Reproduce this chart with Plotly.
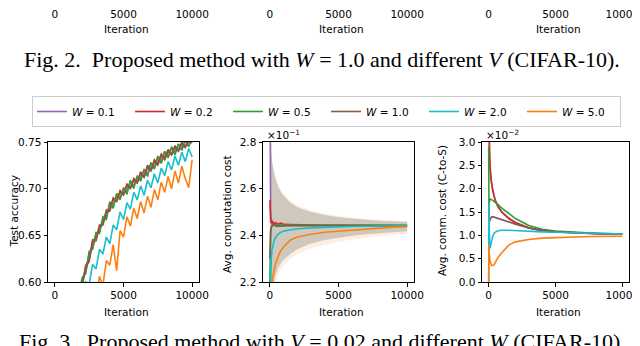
import plotly.graph_objects as go

# ---- legend / colours -------------------------------------------------------
w_labels = ["0.1", "0.2", "0.5", "1.0", "2.0", "5.0"]
colors = ["#9467bd", "#d62728", "#2ca02c", "#8c564b", "#17becf", "#ff7f0e"]

# ---- panel 1: test accuracy -------------------------------------------------
acc_iter = [1500, 1750, 2000, 2250, 2500, 2750, 3000, 3250, 3500, 3750, 4000, 4250,
            4500, 4750, 5000, 5250, 5500, 5750, 6000, 6250, 6500, 6750, 7000, 7250,
            7500, 7750, 8000, 8250, 8500, 8750, 9000, 9250, 9500, 9750, 10000]
acc_w01 = [0.568, 0.587, 0.603, 0.611, 0.631, 0.636, 0.652, 0.654, 0.668, 0.669, 0.684, 0.681,
           0.693, 0.690, 0.700, 0.697, 0.707, 0.703, 0.712, 0.711, 0.719, 0.716, 0.727, 0.723,
           0.733, 0.729, 0.739, 0.735, 0.743, 0.739, 0.747, 0.743, 0.751, 0.747, 0.754]
acc_w02 = [0.573, 0.582, 0.598, 0.618, 0.624, 0.645, 0.646, 0.661, 0.662, 0.677, 0.677, 0.690,
           0.687, 0.698, 0.694, 0.705, 0.701, 0.711, 0.707, 0.718, 0.713, 0.725, 0.720, 0.731,
           0.727, 0.737, 0.733, 0.742, 0.737, 0.746, 0.741, 0.750, 0.745, 0.753, 0.750]
acc_w05 = [0.566, 0.589, 0.605, 0.609, 0.633, 0.635, 0.653, 0.652, 0.670, 0.667, 0.686, 0.679,
           0.695, 0.688, 0.701, 0.694, 0.709, 0.700, 0.714, 0.708, 0.721, 0.713, 0.728, 0.721,
           0.735, 0.727, 0.740, 0.733, 0.745, 0.736, 0.748, 0.741, 0.752, 0.745, 0.755]
acc_w10 = [0.571, 0.584, 0.596, 0.616, 0.622, 0.643, 0.644, 0.659, 0.661, 0.675, 0.676, 0.688,
           0.686, 0.696, 0.693, 0.703, 0.700, 0.709, 0.706, 0.716, 0.712, 0.723, 0.719, 0.729,
           0.725, 0.735, 0.731, 0.740, 0.736, 0.744, 0.740, 0.748, 0.744, 0.751, 0.749]
acc_w20 = [0.556, 0.577, 0.581, 0.600, 0.598, 0.619, 0.614, 0.635, 0.630, 0.648, 0.641, 0.661,
           0.656, 0.675, 0.667, 0.685, 0.678, 0.696, 0.688, 0.703, 0.693, 0.709, 0.701, 0.716,
           0.706, 0.722, 0.714, 0.729, 0.720, 0.735, 0.725, 0.739, 0.729, 0.743, 0.734]
acc_w50 = [0.527, 0.549, 0.551, 0.571, 0.569, 0.590, 0.583, 0.606, 0.596, 0.623, 0.618, 0.640,
           0.612, 0.655, 0.648, 0.670, 0.660, 0.679, 0.668, 0.686, 0.674, 0.692, 0.680, 0.699,
           0.688, 0.707, 0.696, 0.713, 0.700, 0.719, 0.706, 0.724, 0.711, 0.701, 0.731]

# ---- panel 2: avg. computation cost (x1e-1) ---------------------------------
cost_iter = [0, 30, 60, 100, 150, 200, 300, 400, 600, 800, 1000, 1500, 2000, 3000,
             4000, 5000, 6000, 7000, 8000, 9000, 10000]
cost_w01 = [3.20, 2.62, 2.50, 2.47, 2.455, 2.45, 2.447, 2.445, 2.444, 2.443, 2.443, 2.442,
            2.442, 2.442, 2.441, 2.441, 2.441, 2.441, 2.441, 2.441, 2.441]
cost_w02 = [2.55, 2.47, 2.46, 2.455, 2.452, 2.458, 2.45, 2.455, 2.448, 2.452, 2.447, 2.446,
            2.445, 2.444, 2.443, 2.443, 2.442, 2.442, 2.442, 2.442, 2.442]
cost_w05 = [2.20, 2.38, 2.42, 2.435, 2.44, 2.442, 2.443, 2.444, 2.444, 2.444, 2.444, 2.444,
            2.444, 2.443, 2.443, 2.443, 2.443, 2.443, 2.443, 2.443, 2.443]
cost_w10 = [2.30, 2.40, 2.42, 2.43, 2.448, 2.45, 2.446, 2.44, 2.439, 2.44, 2.44, 2.441,
            2.441, 2.441, 2.441, 2.441, 2.441, 2.441, 2.441, 2.441, 2.441]
cost_w20 = [2.00, 2.15, 2.25, 2.30, 2.335, 2.355, 2.375, 2.39, 2.405, 2.413, 2.418, 2.424,
            2.428, 2.432, 2.435, 2.437, 2.438, 2.439, 2.44, 2.44, 2.441]
cost_w50 = [1.90, 2.00, 2.07, 2.13, 2.19, 2.22, 2.25, 2.275, 2.31, 2.335, 2.35, 2.38,
            2.393, 2.405, 2.413, 2.418, 2.423, 2.428, 2.432, 2.435, 2.437]
# shaded spread (all runs) and the wider one of W = 5.0
band_hi = [3.00, 2.90, 2.82, 2.76, 2.72, 2.70, 2.67, 2.645, 2.61, 2.587, 2.57, 2.54,
           2.52, 2.50, 2.487, 2.478, 2.472, 2.467, 2.463, 2.46, 2.457]
band_lo = [1.80, 1.90, 2.00, 2.06, 2.11, 2.15, 2.20, 2.225, 2.26, 2.28, 2.295, 2.32,
           2.34, 2.365, 2.38, 2.39, 2.398, 2.405, 2.41, 2.414, 2.418]
band5_hi = [3.00, 2.92, 2.84, 2.78, 2.74, 2.71, 2.68, 2.655, 2.62, 2.595, 2.578, 2.548,
            2.528, 2.506, 2.492, 2.482, 2.475, 2.47, 2.466, 2.463, 2.46]
band5_lo = [1.70, 1.80, 1.90, 1.98, 2.05, 2.10, 2.16, 2.19, 2.23, 2.255, 2.272, 2.30,
            2.32, 2.345, 2.36, 2.372, 2.382, 2.39, 2.397, 2.402, 2.406]

# ---- panel 3: avg. comm. cost C-to-S (x1e-2) --------------------------------
comm_iter = [0, 20, 50, 100, 150, 200, 300, 400, 500, 700, 1000, 1500, 2000, 3000,
             4000, 5000, 6000, 7000, 8000, 9000, 10000]
comm_w01 = [4.5, 3.3, 2.85, 2.5, 2.3, 2.15, 1.98, 1.85, 1.75, 1.62, 1.5, 1.37,
            1.28, 1.16, 1.10, 1.07, 1.055, 1.045, 1.037, 1.03, 1.025]
comm_w02 = [3.6, 3.1, 2.75, 2.45, 2.27, 2.13, 1.96, 1.84, 1.74, 1.61, 1.49, 1.36,
            1.27, 1.16, 1.10, 1.07, 1.055, 1.045, 1.037, 1.03, 1.025]
comm_w05 = [2.9, 1.65, 1.72, 1.78, 1.78, 1.77, 1.75, 1.73, 1.71, 1.66, 1.58, 1.46,
            1.36, 1.21, 1.13, 1.09, 1.07, 1.055, 1.045, 1.037, 1.03]
comm_w10 = [1.7, 1.35, 1.30, 1.33, 1.37, 1.39, 1.40, 1.39, 1.38, 1.36, 1.33, 1.28,
            1.24, 1.16, 1.11, 1.08, 1.06, 1.05, 1.04, 1.035, 1.03]
comm_w20 = [0.0, 1.7, 1.05, 0.72, 0.78, 0.88, 0.98, 1.04, 1.07, 1.10, 1.11, 1.11,
            1.10, 1.09, 1.075, 1.065, 1.055, 1.045, 1.04, 1.035, 1.03]
comm_w50 = [0.0, 0.8, 0.6, 0.45, 0.39, 0.36, 0.35, 0.37, 0.42, 0.53, 0.63, 0.79,
            0.86, 0.91, 0.94, 0.955, 0.965, 0.97, 0.975, 0.978, 0.98]

acc_series = [acc_w01, acc_w02, acc_w05, acc_w10, acc_w20, acc_w50]
cost_series = [cost_w01, cost_w02, cost_w05, cost_w10, cost_w20, cost_w50]
comm_series = [comm_w01, comm_w02, comm_w05, comm_w10, comm_w20, comm_w50]

W, H = 640, 346
OFF = 8  # the page body puts the figure 8px down and right

def px(v):
    return (v - OFF) / W
def py(v):
    return 1 - (v - OFF) / H

FONT = "DejaVu Sans"
SERIF = "Liberation Serif"
TICK = dict(family=FONT, size=10.5, color="black")

fig = go.Figure()

# shaded spread in panel 2
fig.add_trace(go.Scatter(x=cost_iter + cost_iter[::-1], y=band5_hi + band5_lo[::-1],
                         fill="toself", fillcolor="rgba(255,127,14,0.13)", line=dict(width=0),
                         hoverinfo="skip", showlegend=False, xaxis="x2", yaxis="y2"))
fig.add_trace(go.Scatter(x=cost_iter + cost_iter[::-1], y=band_hi + band_lo[::-1],
                         fill="toself", fillcolor="rgba(140,150,140,0.42)", line=dict(width=0),
                         hoverinfo="skip", showlegend=False, xaxis="x2", yaxis="y2"))

for i, lab in enumerate(w_labels):
    name = "<i>W</i> = " + lab
    fig.add_trace(go.Scatter(x=acc_iter, y=acc_series[i], mode="lines", name=name,
                             line=dict(color=colors[i], width=1.6), legendgroup=lab,
                             xaxis="x", yaxis="y"))
for i, lab in enumerate(w_labels):
    fig.add_trace(go.Scatter(x=cost_iter, y=cost_series[i], mode="lines", name=lab,
                             line=dict(color=colors[i], width=1.6), legendgroup=lab,
                             showlegend=False, xaxis="x2", yaxis="y2"))
for i, lab in enumerate(w_labels):
    fig.add_trace(go.Scatter(x=comm_iter, y=comm_series[i], mode="lines", name=lab,
                             line=dict(color=colors[i], width=1.6), legendgroup=lab,
                             showlegend=False, xaxis="x3", yaxis="y3"))

# only the tick labels of the Fig. 2 panels above are left in the crop
for k in ["4", "5", "6"]:
    fig.add_trace(go.Scatter(x=[None], y=[None], mode="lines", showlegend=False,
                             hoverinfo="skip", xaxis="x" + k, yaxis="y" + k))

panels = [(48, 199), (263, 414), (482, 629)]
ybox = [py(282), py(142)]

def xax(i, anchor):
    return dict(domain=[px(panels[i][0]), px(panels[i][1])], anchor=anchor,
                range=[-500, 10500], tickvals=[0, 5000, 10000],
                ticktext=["0", "5000", "10000"], ticks="outside",
                ticklen=3.5, tickwidth=0.8, tickcolor="black", showline=True,
                mirror=True, linecolor="black", linewidth=1, showgrid=False,
                zeroline=False, tickfont=TICK, automargin=False)

def yax(anchor, domain, rng, vals, fmt):
    return dict(domain=domain, anchor=anchor, range=rng, tickvals=vals, tickformat=fmt,
                ticks="outside", ticklen=3.5, tickwidth=0.8, tickcolor="black",
                showline=True, mirror=True, linecolor="black", linewidth=1,
                showgrid=False, zeroline=False, tickfont=TICK, automargin=False)

def top_x(i, anchor):
    d = xax(i, anchor)
    d.update(showline=False, mirror=False, ticks="", ticklabelstandoff=-2)
    return d

def top_y(anchor):
    return dict(domain=[1 - 0.5 / H, 1], anchor=anchor, range=[0, 1], visible=False)

fig.update_layout(
    template="none",
    width=W, height=H, autosize=False,
    margin=dict(l=0, r=0, t=0, b=0, pad=0),
    paper_bgcolor="white", plot_bgcolor="rgba(0,0,0,0)",
    xaxis=xax(0, "y"), xaxis2=xax(1, "y2"), xaxis3=xax(2, "y3"),
    yaxis=yax("x", ybox, [0.6, 0.75], [0.6, 0.65, 0.7, 0.75], ".2f"),
    yaxis2=yax("x2", ybox, [2.2, 2.8], [2.2, 2.4, 2.6, 2.8], ".1f"),
    yaxis3=yax("x3", ybox, [0, 3.0], [0, 0.5, 1.0, 1.5, 2.0, 2.5, 3.0], ".1f"),
    xaxis4=top_x(0, "y4"), xaxis5=top_x(1, "y5"), xaxis6=top_x(2, "y6"),
    yaxis4=top_y("x4"), yaxis5=top_y("x5"), yaxis6=top_y("x6"),
    showlegend=True,
    legend=dict(orientation="h", x=px(32), y=py(96), xanchor="left", yanchor="top",
                bordercolor="#cccccc", borderwidth=1, bgcolor="white",
                font=dict(family=FONT, size=10.5, color="black"),
                entrywidth=53, entrywidthmode="pixels", itemwidth=30),
)

ann = []
def text(x, y, s, size=10.5, family=FONT, xanchor="center", angle=0):
    ann.append(dict(x=px(x), y=py(y), xref="paper", yref="paper", text=s,
                    showarrow=False, xanchor=xanchor, yanchor="middle", textangle=angle,
                    font=dict(family=family, size=size, color="black")))

# x titles
for a, b in panels:
    text((a + b) / 2 + 3, 29, "Iteration")
    text((a + b) / 2 + 3, 312, "Iteration")
# y titles
text(13.5, 212, "Test accuracy", angle=-90)
text(227, 214, "Avg. computation cost", angle=-90)
text(442, 211, "Avg. comm. cost (C-to-S)", angle=-90)
# offset texts
text(265, 134, "×10<sup>−1</sup>", xanchor="left")
text(484, 134, "×10<sup>−2</sup>", xanchor="left")
# captions
text(322, 59, "Fig. 2.\u00a0 Proposed method with <i>W</i> = 1.0 and different <i>V</i> (CIFAR-10).",
     size=22, family=SERIF)
text(322, 341, "Fig. 3.\u00a0 Proposed method with <i>V</i> = 0.02 and different <i>W</i> (CIFAR-10).",
     size=22, family=SERIF)
fig.update_layout(annotations=ann)

fig.write_html("out.html")
